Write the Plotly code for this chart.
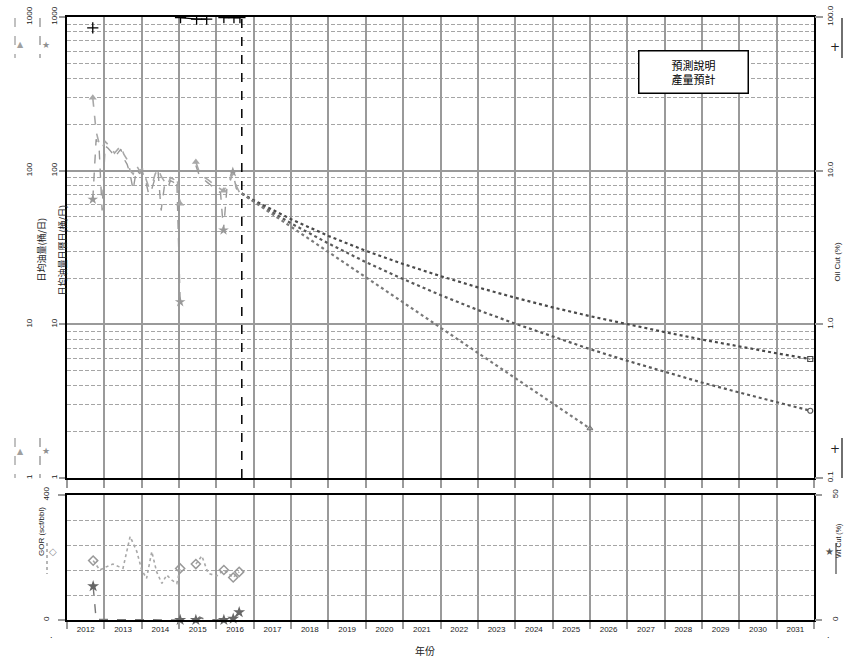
import plotly.graph_objects as go

# ---- data ----
hist_years = [2012.69, 2012.78, 2012.86, 2012.94, 2013.02, 2013.10, 2013.19, 2013.27, 2013.36, 2013.44,
              2013.52, 2013.61, 2013.69, 2013.77, 2013.86, 2013.94, 2014.02, 2014.11, 2014.19, 2014.27,
              2014.36, 2014.44, 2014.52, 2014.61, 2014.69, 2014.77, 2014.86, 2014.94, 2015.03, 2015.24,
              2015.45, 2015.53, 2015.61, 2015.69, 2015.78, 2015.86, 2015.94, 2016.03, 2016.11, 2016.19,
              2016.28, 2016.36, 2016.44, 2016.53, 2016.63]
oil_rate = [298, 180, 150, 140, 155, 148, 140, 130, 138, 145,
            128, 118, 100, 95, 108, 100, 103, 90, 78, 80,
            95, 103, 92, 85, 80, 90, 88, 92, 61, None,
            114, 100, 95, 90, 87, 84, 80, 78, 76, 74,
            80, 88, 96, 80, 71]
cal_rate = [65, 160, 140, 55, 145, 140, 132, 122, 130, 138,
            120, 110, 95, 75, 102, 96, 98, 85, 70, 76,
            90, 98, 55, 80, 76, 86, 84, 88, 14, None,
            108, 95, 90, 86, 83, 80, 76, 74, 72, 41,
            76, 84, 98, 77, 71]
tri_mark_years = [2012.69, 2015.03, 2015.45, 2016.19]
tri_mark_vals = [298, 61, 114, 74]
star_mark_years = [2012.69, 2015.03, 2016.19, 2016.44]
star_mark_vals = [65, 14, 41, 98]

oilcut_years = [2012.69, 2013.0, 2015.04, 2015.47, 2015.74, 2016.0, 2016.20, 2016.47, 2016.63]
oilcut_vals = [85, None, 99, 97, 97, None, 99, 99, 99]

forecast_start = 2016.68
fc_years = [2016.68, 2017, 2018, 2019, 2020, 2021, 2022, 2023, 2024, 2025,
            2026, 2027, 2028, 2029, 2030, 2031, 2031.9]
fc_high = [71, 64.2, 48.3, 37.6, 30.1, 24.7, 20.6, 17.4, 14.9, 12.9,
           11.3, 10.0, 8.9, 7.96, 7.16, 6.48, 5.95]
fc_mid = [71, 63.4, 45.4, 33.6, 25.4, 19.7, 15.5, 12.4, 10.1, 8.3,
          6.9, 5.79, 4.90, 4.18, 3.60, 3.11, 2.74]
fc_low_years = [2016.68, 2017, 2018, 2019, 2020, 2021, 2022, 2023, 2024, 2025, 2026.0]
fc_low = [71, 62.9, 43.1, 29.5, 20.2, 13.9, 9.5, 6.5, 4.46, 3.06, 2.10]

gor_years = [2012.70, 2012.88, 2013.05, 2013.23, 2013.40, 2013.50, 2013.69, 2013.87, 2014.00, 2014.13,
             2014.27, 2014.40, 2014.54, 2014.67, 2014.80, 2014.94, 2015.03, 2015.24, 2015.45, 2015.61,
             2015.78, 2016.01, 2016.20, 2016.45, 2016.61]
gor_vals = [190, 160, 170, 179, 170, 166, 267, 219, 160, 133,
            219, 154, 117, 144, 128, 117, 165, None, 179, 205,
            149, 141, 160, 136, 154]
gor_mark_years = [2012.70, 2015.03, 2015.45, 2016.20, 2016.45, 2016.61]
gor_mark_vals = [190, 165, 179, 160, 136, 154]

wc_years = [2012.70, 2012.78, 2013.0, 2013.5, 2014.0, 2014.5, 2015.03, 2015.24, 2015.45, 2015.55,
            2015.65, 2015.78, 2016.0, 2016.20, 2016.45, 2016.61]
wc_vals = [13.5, 0.3, 0.2, 0.2, 0.1, 0.1, 0.0, None, 0.0, 1.2,
           0.5, 0.2, 0.1, 0.0, 0.5, 3.1]
wc_mark_years = [2012.70, 2015.03, 2015.45, 2016.20, 2016.45, 2016.61]
wc_mark_vals = [13.5, 0.0, 0.0, 0.0, 0.5, 3.1]

year_labels = [str(y) for y in range(2012, 2032)]
log_ticks = [1, 10, 100, 1000]
log_labels = ["1", "10", "100", "1000"]
log_minor = [m * d for d in (1, 10, 100) for m in range(2, 10)]

# ---- page geometry helpers (window pixels -> paper) ----
# body margin is reset to 0 in the page (see write_html below)
W, H = 851, 671
OFF = 0
ML, MR, MT, MB = 2, 2, 2, 2
def fx(px):
    return (px - OFF - ML) / (W - ML - MR)
def fy(py):
    return (H - MB - (py - OFF)) / (H - MT - MB)

NUM = "Liberation Sans, Arial, sans-serif"
CJK = "Noto Sans CJK TC, sans-serif"
GRID = "#9a9a9a"
MINOR_DASH = "4px,2px"

fig = go.Figure()

# history, top panel
fig.add_trace(go.Scatter(x=hist_years, y=oil_rate, xaxis="x", yaxis="y2", mode="lines",
                         line=dict(color="#a8a8a8", width=1.6, dash="dash")))
fig.add_trace(go.Scatter(x=hist_years, y=cal_rate, xaxis="x", yaxis="y", mode="lines",
                         line=dict(color="#999999", width=1.4, dash="dash")))
fig.add_trace(go.Scatter(x=tri_mark_years, y=tri_mark_vals, xaxis="x", yaxis="y2", mode="markers",
                         marker=dict(symbol="triangle-up", size=7, color="#a8a8a8")))
fig.add_trace(go.Scatter(x=star_mark_years, y=star_mark_vals, xaxis="x", yaxis="y", mode="markers",
                         marker=dict(symbol="star", size=8, color="#999999")))

# forecasts
for xs, ys, col, sym in [(fc_years, fc_high, "#4a4a4a", "square-open"),
                         (fc_years, fc_mid, "#5a5a5a", "circle-open"),
                         (fc_low_years, fc_low, "#7a7a7a", "triangle-up-open")]:
    fig.add_trace(go.Scatter(x=xs, y=ys, xaxis="x", yaxis="y", mode="lines",
                             line=dict(color=col, width=2.2, dash="dot")))
    fig.add_trace(go.Scatter(x=[xs[-1]], y=[ys[-1]], xaxis="x", yaxis="y", mode="markers",
                             marker=dict(symbol=sym, size=5, color=col, line=dict(width=1.2)),
                             cliponaxis=False))

# oil cut
fig.add_trace(go.Scatter(x=oilcut_years, y=oilcut_vals, xaxis="x", yaxis="y3", mode="lines+markers",
                         line=dict(color="black", width=1.2),
                         marker=dict(symbol="cross-thin", size=8, line=dict(color="black", width=1.3))))

# bottom panel
fig.add_trace(go.Scatter(x=gor_years, y=gor_vals, xaxis="x2", yaxis="y4", mode="lines",
                         line=dict(color="#a8a8a8", width=1.6, dash="dot")))
fig.add_trace(go.Scatter(x=gor_mark_years, y=gor_mark_vals, xaxis="x2", yaxis="y4", mode="markers",
                         marker=dict(symbol="diamond-open", size=7, color="#999999", line=dict(width=1.5))))
fig.add_trace(go.Scatter(x=wc_years, y=wc_vals, xaxis="x2", yaxis="y5", mode="lines",
                         line=dict(color="#777777", width=1.4, dash="dash")))
fig.add_trace(go.Scatter(x=wc_mark_years, y=wc_mark_vals, xaxis="x2", yaxis="y5", mode="markers",
                         marker=dict(symbol="star", size=9, color="#666666"), cliponaxis=False))

# an empty trace so the inner label axis (yaxis6) gets drawn
fig.add_trace(go.Scatter(x=[], y=[], xaxis="x", yaxis="y6", showlegend=False))

xdom = [fx(67), fx(814)]
top_dom = [fy(478), fy(17)]
bot_dom = [fy(620), fy(495)]
frame = dict(showline=True, linecolor="black", linewidth=2, mirror=True, zeroline=False, automargin=False)
label_axis = dict(overlaying="y", anchor="free", side="left", type="log", range=[0, 3],
                  tickmode="array", tickvals=log_ticks, ticktext=log_labels, tickangle=-90,
                  ticks="", ticklabeloverflow="allow", showgrid=False, showline=False,
                  zeroline=False, automargin=False)

layout = go.Layout(
    width=W, height=H, showlegend=False,
    margin=dict(l=ML, r=MR, t=MT, b=MB, autoexpand=False),
    paper_bgcolor="white", plot_bgcolor="white",
    font=dict(family=NUM, size=8, color="#222"),
    xaxis=dict(domain=xdom, anchor="y", range=[2012, 2032], tickmode="array",
               tickvals=list(range(2012, 2033)), showticklabels=False,
               ticks="outside", ticklen=8, tickcolor=GRID, tickwidth=1.5,
               showgrid=True, gridcolor=GRID, gridwidth=1.5, **frame),
    xaxis2=dict(domain=xdom, anchor="y4", range=[2012, 2032], tickmode="array",
                tickvals=[y + 0.5 for y in range(2012, 2032)], ticktext=year_labels,
                ticks="", showgrid=False, tickfont=dict(size=8),
                minor=dict(tickmode="array", tickvals=list(range(2012, 2033)), ticks="outside",
                           ticklen=7, tickcolor=GRID, tickwidth=1.5,
                           showgrid=True, gridcolor=GRID, gridwidth=1.5),
                **frame),
    # inner left axis (calendar-day rate); its labels come from yaxis6
    yaxis=dict(domain=top_dom, anchor="x", type="log", range=[0, 3], tickmode="array",
               tickvals=log_ticks, showticklabels=False,
               ticks="outside", ticklen=6, tickcolor=GRID, tickwidth=1.5,
               showgrid=True, gridcolor=GRID, gridwidth=1.5,
               minor=dict(tickmode="array", tickvals=log_minor, ticks="",
                          showgrid=True, gridcolor="#a5a5a5", gridwidth=1, griddash=MINOR_DASH),
               **frame),
    yaxis2=dict(position=fx(34), **label_axis),
    yaxis6=dict(position=fx(59), **label_axis),
    yaxis3=dict(overlaying="y", anchor="x", side="right", type="log", range=[-1, 2],
                tickmode="array", tickvals=[0.1, 1, 10, 100], ticktext=["0.1", "1.0", "10.0", "100.0"],
                tickangle=-90, ticks="outside", ticklen=8, tickcolor=GRID, tickwidth=1.5,
                ticklabeloverflow="allow",
                showgrid=False, showline=False, zeroline=False, automargin=False),
    yaxis4=dict(domain=bot_dom, anchor="x2", range=[0, 400], tickmode="array",
                tickvals=[0, 400], ticktext=["0", "400"], tickangle=-90,
                ticks="outside", ticklen=7, tickcolor=GRID, tickwidth=1.5, ticklabelstandoff=6,
                ticklabeloverflow="allow", showgrid=False,
                minor=dict(tickmode="array", tickvals=[80, 160, 240, 320], ticks="",
                           showgrid=True, gridcolor="#a5a5a5", gridwidth=1, griddash=MINOR_DASH),
                **frame),
    yaxis5=dict(overlaying="y4", anchor="x2", side="right", range=[0, 50], tickmode="array",
                tickvals=[0, 50], ticktext=["0", "50"], tickangle=-90,
                ticks="outside", ticklen=7, tickcolor=GRID, tickwidth=1.5, ticklabelstandoff=6,
                ticklabeloverflow="allow",
                showgrid=False, showline=False, zeroline=False, automargin=False),
)
fig = go.Figure(data=fig.data, layout=layout)

# forecast start marker
fig.add_shape(type="line", xref="x", yref="y domain", x0=forecast_start, x1=forecast_start,
              y0=0, y1=1, line=dict(color="black", width=1.5, dash="dash"))

# axis titles
def label(text, px, py, angle=-90, size=9, family=CJK):
    fig.add_annotation(text=text, xref="paper", yref="paper", x=fx(px), y=fy(py),
                       showarrow=False, textangle=angle, font=dict(family=family, size=size, color="#222"))

label("日均油量(桶/日)", 33, 250)
label("日均油量日曆日(桶/日)", 54, 250)
label("Oil Cut (%)", 843, 262, size=8, family=NUM)
label("GOR (scf/bbl)", 35, 558, size=8, family=NUM)
label("Wt Cut (%)", 845, 560, size=7, family=NUM)
label("年份", 425, 660, angle=0, size=10)
label(".", 48, 642, angle=0, size=9, family=NUM)
label(".", 832, 642, angle=0, size=9, family=NUM)

# legend box
fig.add_annotation(text="預測說明<br>產量預計", xref="paper", yref="paper", x=fx(749), y=fy(50),
                   showarrow=False, font=dict(family=CJK, size=11, color="black"),
                   bgcolor="white", bordercolor="black", borderwidth=1.5,
                   width=104, height=37, borderpad=2)

# series key glyphs beside the axes
def key(px, y0, y1, glyph, color, dash, size=9):
    fig.add_shape(type="line", xref="paper", yref="paper", x0=fx(px), x1=fx(px),
                  y0=fy(y0), y1=fy(y1), line=dict(color=color, width=1.3, dash=dash))
    fig.add_annotation(text=glyph, xref="paper", yref="paper", x=fx(px), y=fy((y0 + y1) / 2),
                       showarrow=False, font=dict(family="DejaVu Sans", size=size, color=color))

for yy in (38, 458):
    key(15, yy - 20, yy + 20, "▲", "#a0a0a0", "dash", 8)
    key(40, yy - 20, yy + 20, "★", "#909090", "dash", 9)
    key(842, yy - 20, yy + 20, "+", "#222222", "solid", 12)
key(47, 543, 574, "◇", "#909090", "dot", 10)
key(836, 543, 574, "★", "#555555", "solid", 10)

fig.write_html("out.html", config={"displayModeBar": False},
               post_script="document.body.style.margin='0px';")
